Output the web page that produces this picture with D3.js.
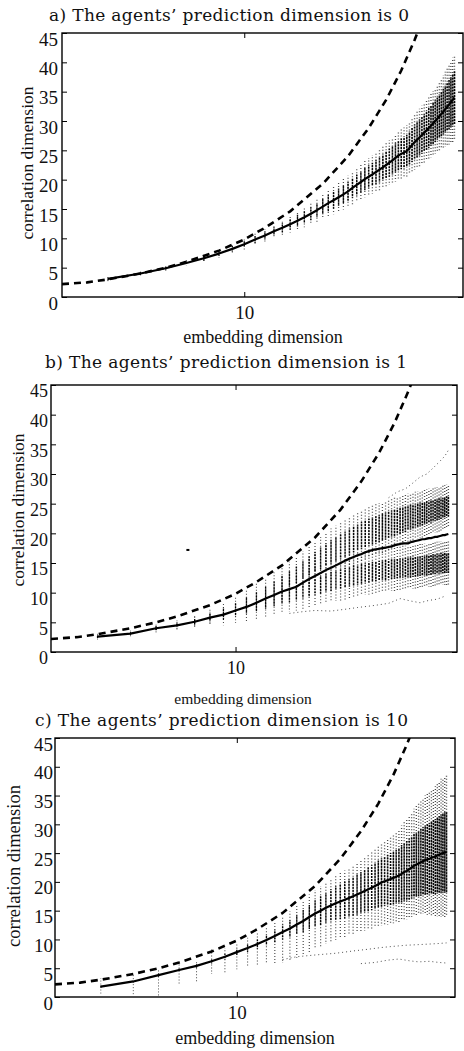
<!DOCTYPE html>
<html>
<head>
<meta charset="utf-8">
<script src="https://cdn.jsdelivr.net/npm/d3@7"></script>
<style>
  body { margin: 0; background: #fff; }
  svg { display: block; }
  .title { font-family: "DejaVu Serif", serif; fill: #111; }
  .lbl, .tick text { font-family: "Liberation Serif", "Times New Roman", serif; fill: #111; }
</style>
</head>
<body>
<div id="chart"></div>
<script>
// Correlation dimension vs embedding dimension, three panels
// x: embedding dimension (log axis), y: correlation dimension

const dims = [3,4,5,6,7,8,9,10,11,12,13,14,15,16,17,18,19,20,21,22,23,24,25,26,27,28,29,30,31,32,
  33,34,35,36,37,38,39,40,41,42,43,44,45,46,47,48,49,50,51,52,53,54,55,56,57,58,59,60,61,62,63,64];
const yTicks = [0, 5, 10, 15, 20, 25, 30, 35, 40, 45];
const xTicks = [10];
const xDomain = [2, 69];

// dashed reference curve (same in every panel)
const refX = [2, 2.5, 3, 4, 5, 6, 8, 10, 12, 15, 20, 25, 30, 35, 40, 45, 48];
const refY = [2.2, 2.5, 3.0, 4.0, 5.0, 6.0, 7.9, 9.8, 11.8, 14.6, 19.3, 24.0, 28.8, 33.6, 38.6, 43.8, 47.0];

// panel a: prediction dimension 0
const meanA = [3.1,4.0,4.9,5.8,6.6,7.4,8.2,9.0,9.8,10.5,
  11.2,11.8,12.4,13.0,13.6,14.2,14.8,15.4,16.0,16.5,
  17.0,17.5,18.0,18.6,19.1,19.6,20.1,20.5,20.9,21.3,
  21.7,22.1,22.5,22.9,23.3,23.7,24.1,24.4,24.6,24.9,
  25.4,25.9,26.4,26.8,27.2,27.6,28.0,28.4,28.8,29.2,
  29.6,30.0,30.4,30.8,31.2,31.6,32.0,32.4,32.8,33.2,
  33.6,34.0];
const outerA = [0.4,0.4,0.5,0.5,0.6,0.7,0.8,0.9,1.0,1.1,
  1.2,1.3,1.4,1.6,1.7,1.8,2.0,2.1,2.3,2.4,
  2.5,2.6,2.7,2.8,2.9,3.0,3.1,3.2,3.3,3.4,
  3.5,3.6,3.7,3.8,3.9,4.0,4.1,4.2,4.3,4.4,
  4.5,4.6,4.7,4.8,4.9,5.0,5.1,5.2,5.3,5.4,
  5.5,5.6,5.7,5.8,6.0,6.2,6.4,6.6,6.8,7.0,
  7.2,7.3];
const coreA = [0.3,0.3,0.3,0.3,0.4,0.4,0.5,0.5,0.6,0.7,
  0.7,0.8,0.9,1.0,1.0,1.1,1.2,1.3,1.4,1.4,
  1.5,1.6,1.6,1.7,1.8,1.8,1.9,2.0,2.0,2.1,
  2.2,2.2,2.3,2.4,2.4,2.5,2.5,2.6,2.7,2.7,
  2.8,2.9,3.0,3.0,3.1,3.2,3.2,3.3,3.4,3.4,
  3.5,3.6,3.6,3.7,3.8,3.9,4.0,4.1,4.2,4.3,
  4.4,4.5];

// panel b: prediction dimension 1 (two bands)
const meanB = [2.6,3.1,4.0,4.5,5.1,5.8,6.3,7.0,7.6,8.3,
  9.0,9.6,10.2,10.6,11.0,11.7,12.3,12.8,13.3,13.8,
  14.2,14.6,15.0,15.4,15.7,16.0,16.3,16.5,16.8,17.0,
  17.2,17.3,17.4,17.5,17.6,17.7,17.8,18.0,18.1,18.2,
  18.3,18.3,18.3,18.5,18.6,18.7,18.8,18.9,19.0,19.0,
  19.1,19.2,19.2,19.3,19.4,19.4,19.5,19.6,19.7,19.7,
  19.8,19.9];
const upMidB = [2.6,3.1,4.0,4.6,5.3,6.1,6.8,7.6,8.4,9.2,
  10.0,10.8,11.6,12.3,13.0,13.8,14.5,15.2,15.8,16.4,
  16.9,17.4,17.8,18.2,18.6,19.0,19.3,19.6,19.9,20.2,
  20.4,20.6,20.8,21.0,21.2,21.4,21.6,21.8,22.0,22.1,
  22.3,22.4,22.6,22.7,22.8,23.0,23.1,23.2,23.3,23.4,
  23.5,23.6,23.7,23.8,23.9,24.0,24.1,24.2,24.3,24.4,
  24.5,24.6];
const upHalfB = [0.2,0.2,0.3,0.3,0.4,0.5,0.6,0.7,0.8,0.9,
  1.0,1.1,1.2,1.3,1.4,1.5,1.6,1.7,1.8,1.9,
  2.0,2.0,2.1,2.1,2.2,2.2,2.2,2.3,2.3,2.3,
  2.3,2.3,2.3,2.3,2.3,2.3,2.3,2.3,2.2,2.2,
  2.2,2.2,2.1,2.1,2.1,2.0,2.0,2.0,2.0,1.9,
  1.9,1.9,1.9,1.8,1.8,1.8,1.8,1.8,1.7,1.7,
  1.7,1.7];
const lowMidB = [2.6,3.1,4.0,4.5,5.0,5.6,6.0,6.6,7.1,7.6,
  8.1,8.6,9.1,9.5,9.9,10.3,10.7,11.0,11.3,11.6,
  11.9,12.1,12.3,12.5,12.7,12.9,13.0,13.2,13.3,13.4,
  13.5,13.6,13.7,13.8,13.8,13.9,14.0,14.0,14.1,14.1,
  14.2,14.2,14.3,14.3,14.4,14.4,14.4,14.5,14.5,14.6,
  14.6,14.7,14.7,14.8,14.8,14.9,14.9,15.0,15.0,15.0,
  15.0,15.0];
const lowHalfB = [0.2,0.2,0.3,0.3,0.4,0.4,0.5,0.5,0.6,0.7,
  0.8,0.9,1.0,1.1,1.2,1.3,1.4,1.4,1.5,1.5,
  1.6,1.6,1.6,1.7,1.7,1.7,1.7,1.7,1.7,1.7,
  1.7,1.7,1.7,1.7,1.7,1.7,1.7,1.7,1.7,1.7,
  1.7,1.7,1.7,1.7,1.7,1.7,1.7,1.7,1.7,1.7,
  1.7,1.7,1.7,1.7,1.7,1.7,1.7,1.7,1.7,1.7,
  1.7,1.7];
const fringeB = [0.3,0.3,0.4,0.5,0.6,0.8,1.0,1.2,1.3,1.4,
  1.5,1.5,1.6,1.6,1.7,1.7,1.8,1.8,1.8,1.9,
  1.9,1.9,2.0,2.0,2.0,2.0,2.0,2.0,2.0,2.0,
  2.0,2.0,2.0,2.0,2.0,2.0,2.0,2.0,2.0,2.0,
  2.0,2.0,2.0,2.0,2.0,2.0,2.0,2.0,2.0,2.0,
  2.0,2.0,2.0,2.0,2.0,2.0,2.0,2.0,2.0,2.0,
  2.0,2.0];
const lowTrackBx = [16, 18, 20, 23, 26, 29, 33, 38, 42, 46, 50, 54, 58, 62];
const lowTrackBy = [6.5, 6.8, 7.0, 6.9, 7.2, 7.5, 7.8, 8.2, 9.0, 8.6, 8.3, 8.7, 8.9, 9.4];
const highTrackBx = [38, 41, 44, 47, 50, 53, 56, 59, 62, 64];
const highTrackBy = [26.0, 27.0, 27.5, 28.5, 29.5, 30.0, 31.0, 32.0, 33.0, 34.0];
const strayBx = [6.6];
const strayBy = [17.2];

// panel c: prediction dimension 10
const meanC = [1.8,2.7,3.8,4.7,5.4,6.2,7.0,7.8,8.5,9.2,
  9.9,10.6,11.3,11.9,12.6,13.2,13.9,14.5,15.0,15.5,
  15.9,16.3,16.6,16.9,17.2,17.5,17.8,18.1,18.4,18.7,
  19.0,19.3,19.6,19.9,20.1,20.3,20.5,20.7,20.9,21.1,
  21.4,21.7,21.9,22.2,22.5,22.8,23.0,23.2,23.4,23.6,
  23.8,23.9,24.0,24.2,24.3,24.4,24.6,24.7,24.9,25.0,
  25.1,25.2];
const downC = [1.2,2.5,3.6,2.7,2.8,2.2,2.9,3.0,3.3,3.6,
  4.2,4.8,5.4,5.6,5.8,6.0,6.1,6.2,6.3,6.3,
  6.4,6.4,6.4,6.5,6.5,6.6,6.7,6.8,6.9,7.0,
  7.1,7.2,7.3,7.5,7.6,7.7,7.8,7.9,8.0,8.1,
  8.2,8.3,8.4,8.5,8.6,8.7,8.8,8.9,9.0,9.2,
  9.4,9.6,9.8,10.0,10.2,10.4,10.6,10.8,11.0,11.1,
  11.2,11.2];
const upC = [1.5,1.3,1.0,1.2,1.0,2.1,1.5,1.5,1.8,2.0,
  2.2,2.5,2.8,3.0,3.3,3.6,3.9,4.1,4.3,4.5,
  4.7,4.8,5.0,5.1,5.2,5.4,5.5,5.7,5.9,6.1,
  6.3,6.5,6.7,6.9,7.1,7.3,7.5,7.7,7.9,8.1,
  8.4,8.7,9.0,9.3,9.6,9.9,10.2,10.5,10.8,11.0,
  11.2,11.4,11.6,11.8,12.0,12.2,12.5,12.8,13.0,13.1,
  13.2,13.3];
const coreC = [0.2,0.2,0.3,0.3,0.3,0.4,0.5,0.6,0.7,0.8,
  0.9,1.1,1.3,1.5,1.7,1.9,2.1,2.3,2.5,2.6,
  2.8,3.0,3.1,3.2,3.3,3.4,3.5,3.6,3.7,3.8,
  3.9,4.0,4.1,4.2,4.3,4.4,4.5,4.6,4.7,4.8,
  5.0,5.1,5.2,5.3,5.4,5.5,5.6,5.7,5.8,5.9,
  6.0,6.1,6.2,6.3,6.4,6.5,6.6,6.7,6.8,6.9,
  7.0,7.0];
const trackC1x = [15, 17, 20, 24, 28, 32, 36, 40, 45, 50, 55, 60, 64];
const trackC1y = [6.5, 7.0, 7.3, 7.6, 8.0, 8.3, 8.6, 8.8, 9.0, 9.1, 9.2, 9.3, 9.4];
const trackC2x = [30, 34, 38, 42, 46, 50, 55, 60, 64];
const trackC2y = [5.8, 6.0, 6.4, 6.6, 6.3, 6.1, 6.2, 6.0, 5.9];

const titles = [
  "a) The agents\u2019 prediction dimension is 0",
  "b) The agents\u2019 prediction dimension is 1",
  "c) The agents\u2019 prediction dimension is 10"
];

// build column segments per panel
const sparseA = dims.map((d, i) => [d, meanA[i] - outerA[i], meanA[i] + outerA[i]]);
const denseA = dims.map((d, i) => [d, meanA[i] - coreA[i], meanA[i] + coreA[i]]);

const sparseB = dims.flatMap((d, i) => [
  [d, lowMidB[i] - lowHalfB[i] - fringeB[i], lowMidB[i] + lowHalfB[i] + fringeB[i]],
  [d, upMidB[i] - upHalfB[i] - fringeB[i], upMidB[i] + upHalfB[i] + fringeB[i]]
]);
const denseB = dims.flatMap((d, i) => [
  [d, lowMidB[i] - lowHalfB[i], lowMidB[i] + lowHalfB[i]],
  [d, upMidB[i] - upHalfB[i], upMidB[i] + upHalfB[i]]
]);

const sparseC = dims.map((d, i) => [d, meanC[i] - downC[i], meanC[i] + upC[i]]);
const denseC = dims.map((d, i) => [d, meanC[i] - coreC[i], meanC[i] + coreC[i]]);

const panels = [
  { title: titles[0], titleX: 49, titleY: 21, titleSize: 17, titleLen: 360,
    left: 62, top: 33, right: 463, bottom: 297, tickFont: 19, tickPad: 4,
    xlabX: 263, xlabY: 343, xlabSize: 18, ylabX: 27, ylabY: 163, ylabSize: 17.5,
    mean: meanA, sparse: sparseA, dense: denseA, tracks: [], stray: [[], []] },
  { title: titles[1], titleX: 45, titleY: 368, titleSize: 17, titleLen: 362,
    left: 51, top: 385, right: 457, bottom: 652, tickFont: 18, tickPad: 3,
    xlabX: 243, xlabY: 704, xlabSize: 15.5, ylabX: 18, ylabY: 510, ylabSize: 17.5,
    mean: meanB, sparse: sparseB, dense: denseB,
    tracks: [[lowTrackBx, lowTrackBy], [highTrackBx, highTrackBy]], stray: [strayBx, strayBy] },
  { title: titles[2], titleX: 35, titleY: 726, titleSize: 17, titleLen: 373,
    left: 55, top: 738, right: 455, bottom: 997, tickFont: 19, tickPad: 2,
    xlabX: 255, xlabY: 1044, xlabSize: 18, ylabX: 14, ylabY: 866, ylabSize: 18.5,
    mean: meanC, sparse: sparseC, dense: denseC,
    tracks: [[trackC1x, trackC1y], [trackC2x, trackC2y]], stray: [[], []] }
];

const svg = d3.select('#chart').append('svg')
  .attr('width', 464)
  .attr('height', 1051);

function drawPanel(p, idx) {
  const x = d3.scaleLog().domain(xDomain).range([p.left, p.right]);
  const y = d3.scaleLinear().domain([0, 45]).range([p.bottom, p.top]);
  const g = svg.append('g');
  // columns get a bit wider to the right, where they crowd together
  const colWidth = (d, base) => base + 0.5 * (Math.log(d[0] / 3) / Math.log(64 / 3));

  const clipId = 'clip-' + idx;
  svg.append('clipPath').attr('id', clipId).append('rect')
    .attr('x', p.left).attr('y', p.top)
    .attr('width', p.right - p.left).attr('height', p.bottom - p.top);
  const plot = g.append('g').attr('clip-path', `url(#${clipId})`);

  // sparse part of each column of points
  plot.append('g').selectAll('line')
    .data(p.sparse)
    .join('line')
    .attr('x1', d => x(d[0])).attr('x2', d => x(d[0]))
    .attr('y1', d => y(d[1])).attr('y2', d => y(d[2]))
    .attr('stroke', '#000')
    .attr('stroke-width', d => colWidth(d, 0.9))
    .attr('stroke-dasharray', '1,2')
    .attr('stroke-dashoffset', (d, i) => (i * 1.3) % 3)
    .attr('opacity', 0.7);

  // dense core of each column
  plot.append('g').selectAll('line')
    .data(p.dense)
    .join('line')
    .attr('x1', d => x(d[0])).attr('x2', d => x(d[0]))
    .attr('y1', d => y(d[1])).attr('y2', d => y(d[2]))
    .attr('stroke', '#000')
    .attr('stroke-width', d => colWidth(d, 1.1))
    .attr('stroke-dasharray', '2.2,0.8')
    .attr('stroke-dashoffset', (d, i) => (i * 0.7) % 2.5)
    .attr('opacity', 0.95);

  // stray outlier tracks
  const trackLine = d3.line().x(d => x(d[0])).y(d => y(d[1]));
  p.tracks.forEach(([tx, ty]) => {
    plot.append('path')
      .attr('d', trackLine(tx.map((v, i) => [v, ty[i]])))
      .attr('fill', 'none')
      .attr('stroke', '#000')
      .attr('stroke-width', 1)
      .attr('stroke-dasharray', '1,3')
      .attr('opacity', 0.7);
  });

  plot.selectAll('.stray')
    .data(p.stray[0].map((v, i) => [v, p.stray[1][i]]))
    .join('rect')
    .attr('class', 'stray')
    .attr('x', d => x(d[0]) - 1.5).attr('y', d => y(d[1]) - 1)
    .attr('width', 3).attr('height', 2)
    .attr('fill', '#000');

  // dashed reference curve
  plot.append('path')
    .attr('d', d3.line().x(d => x(d[0])).y(d => y(d[1]))(refX.map((v, i) => [v, refY[i]])))
    .attr('fill', 'none')
    .attr('stroke', '#000')
    .attr('stroke-width', 2.6)
    .attr('stroke-dasharray', '7,5');

  // mean curve
  plot.append('path')
    .attr('d', d3.line().x(d => x(d[0])).y(d => y(d[1]))(dims.map((d, i) => [d, p.mean[i]])))
    .attr('fill', 'none')
    .attr('stroke', '#000')
    .attr('stroke-width', 2.2)
    .attr('stroke-linejoin', 'round');

  // axes
  const yAxis = g.append('g')
    .attr('transform', `translate(${p.left},0)`)
    .call(d3.axisLeft(y).tickValues(yTicks).tickSizeInner(-5).tickSizeOuter(0).tickPadding(p.tickPad));
  yAxis.selectAll('text').attr('y', 6).style('font-size', p.tickFont + 'px');

  g.append('g')
    .attr('transform', `translate(${p.right},0)`)
    .call(d3.axisRight(y).tickValues(yTicks).tickSizeInner(-5).tickSizeOuter(0).tickFormat(''));

  const xAxis = g.append('g')
    .attr('transform', `translate(0,${p.bottom})`)
    .call(d3.axisBottom(x).tickValues(xTicks).tickSizeInner(-5).tickSizeOuter(0)
      .tickPadding(9).tickFormat(d3.format('d')));
  xAxis.selectAll('text').style('font-size', p.tickFont + 'px');

  g.append('g')
    .attr('transform', `translate(0,${p.top})`)
    .call(d3.axisTop(x).tickValues(xTicks).tickSizeInner(-5).tickSizeOuter(0).tickFormat(''));

  g.selectAll('.domain').remove();
  g.selectAll('.tick line').attr('stroke', '#000').attr('stroke-width', 1);

  // frame
  g.append('rect')
    .attr('x', p.left).attr('y', p.top)
    .attr('width', p.right - p.left).attr('height', p.bottom - p.top)
    .attr('fill', 'none')
    .attr('stroke', '#000')
    .attr('stroke-width', 1.4);

  // labels
  svg.append('text')
    .attr('class', 'title')
    .attr('x', p.titleX).attr('y', p.titleY)
    .attr('text-anchor', 'start')
    .attr('textLength', p.titleLen)
    .attr('lengthAdjust', 'spacing')
    .style('font-size', p.titleSize + 'px')
    .text(p.title);

  svg.append('text')
    .attr('class', 'lbl')
    .attr('x', p.xlabX).attr('y', p.xlabY)
    .attr('text-anchor', 'middle')
    .style('font-size', p.xlabSize + 'px')
    .text('embedding dimension');

  svg.append('text')
    .attr('class', 'lbl')
    .attr('transform', `translate(${p.ylabX},${p.ylabY}) rotate(-90)`)
    .attr('text-anchor', 'middle')
    .attr('dy', '0.35em')
    .style('font-size', p.ylabSize + 'px')
    .text('correlation dimension');
}

panels.forEach(drawPanel);
</script>
</body>
</html>
